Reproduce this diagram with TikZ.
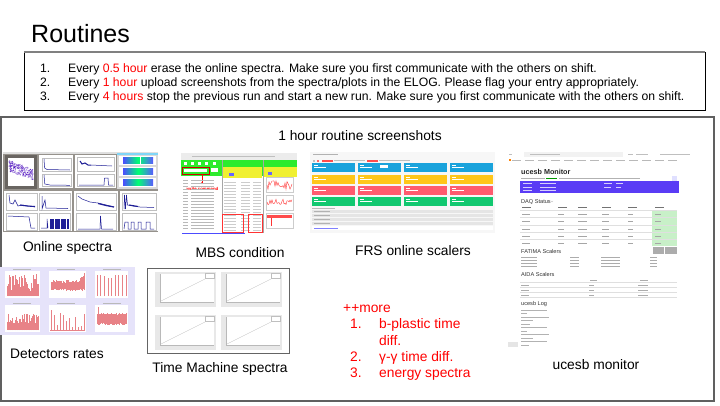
\documentclass[tikz,border=0pt]{standalone}
\usepackage{fontspec}
\setmainfont{Liberation Sans}
\usetikzlibrary{arrows.meta}
\definecolor{osbg}{RGB}{150,146,140}
\definecolor{osdark}{RGB}{105,101,97}
\definecolor{plotblue}{RGB}{30,30,150}
\definecolor{mbsgreen}{RGB}{45,235,45}
\definecolor{mbsyellow}{RGB}{240,240,50}
\definecolor{frsblue}{RGB}{26,163,220}
\definecolor{frsyellow}{RGB}{255,198,26}
\definecolor{frsred}{RGB}{255,91,110}
\definecolor{frsgreen}{RGB}{18,200,112}
\definecolor{ucpurple}{RGB}{90,60,245}
\definecolor{ucgreen}{RGB}{200,240,200}
\definecolor{lav}{RGB}{230,227,250}
\definecolor{spike}{RGB}{232,130,135}
\definecolor{framegray}{RGB}{100,100,100}
\begin{document}
\begin{tikzpicture}[x=1pt,y=-1pt,
  lbl/.style={font=\fontsize{13.8}{16}\selectfont, inner sep=0, anchor=base},
  listtxt/.style={font=\fontsize{12.2}{14}\selectfont, inner sep=0, anchor=base west},
  redtxt/.style={font=\fontsize{13.8}{16}\selectfont, inner sep=0, anchor=base west, text=red},
  uchead/.style={font=\fontsize{5.6}{6}\selectfont, inner sep=0, anchor=base west, text=black!80},
  txtline/.style={gray!55, line width=0.5},
  subplot/.style={draw=gray!50, line width=0.3, fill=white},
  curve/.style={plotblue, line width=0.5},
  spk/.style={spike, line width=0.4},
]
\useasboundingbox (0,0) rectangle (720,405);
\fill[white] (0,0) rectangle (720,405);
\pgfmathsetseed{42}

% ---------- title and routine list ----------
\node[font=\fontsize{25}{29}\selectfont, inner sep=0, anchor=base west] (title) at (31,42) {Routines};
\draw[black, line width=0.7] (24,52) rectangle (705,110);
\draw[gray, line width=1.6] (24,52) -- (705,52);
\node[listtxt] (n1) at (40,72) {1.};
\node[listtxt] (t1) at (68,72) {Every \textcolor{red}{0.5 hour} erase the online spectra. Make sure you first communicate with the others on shift.};
\node[listtxt] (n2) at (40,86) {2.};
\node[listtxt] (t2) at (68,86) {Every \textcolor{red}{1 hour} upload screenshots from the spectra/plots in the ELOG. Please flag your entry appropriately.};
\node[listtxt] (n3) at (40,100) {3.};
\node[listtxt] (t3) at (68,100) {Every \textcolor{red}{4 hours} stop the previous run and start a new run. Make sure you first communicate with the others on shift.};

% ---------- big frame ----------
\draw[gray!75!black, line width=1.1] (1,117) rectangle (714,401);
\node[lbl] (hdr) at (360,140) {1 hour routine screenshots};

% ---------- Online spectra screenshot ----------
\fill[osbg] (3,152) rectangle (158,232);
\fill[gray!25] (3,152) rectangle (158,154);
\fill[osdark] (5,155) rectangle (37,189);
\fill[white] (8,158) rectangle (34,186);
\foreach \i in {1,...,220}{
  \pgfmathsetmacro\rx{21+(rnd-0.5)*24}
  \pgfmathsetmacro\ry{170+(\rx-21)*0.35+(rnd-0.5)*11}
  \fill[blue!65!purple, opacity=0.55] (\rx,\ry) circle (0.6);
}
\fill[white] (39,155) rectangle (73,188);
\draw[subplot] (42,158) rectangle (71,171);
\draw[subplot] (42,174) rectangle (71,186);
\draw[curve] (44,159) -- (44.6,168) -- (47,169.5) -- (70,170);
\draw[curve] (44,175) -- (44.8,184) -- (50,185) -- (70,185.3);
\fill[white] (75,155) rectangle (116,188);
\draw[subplot] (77,157) rectangle (114,171);
\draw[subplot] (77,174) rectangle (114,186);
\draw[curve, line width=1] (80,161) -- (82,164) -- (85,163) -- (88,165) -- (91,165);
\draw[curve] (91,165) -- (112,166);
\draw[curve] (79,185) -- (104,185) -- (104.5,178) -- (108,178) -- (108.5,185) -- (113,185);
\fill[gray!30] (117,153) rectangle (158,189);
\fill[cyan!50] (117,153) rectangle (158,155);
\foreach \yb in {156,167,178}{
  \fill[white] (119,\yb) rectangle (156,\yb+9);
  \shade[left color=blue!70, right color=blue!65, middle color=green!55!cyan] (123,\yb+1.5) rectangle (153,\yb+7.5);
}
\draw[white, line width=0.6] (140,156) -- (140,165);
% bottom row
\fill[white] (4,191) rectangle (72,231);
\draw[subplot] (6,193) rectangle (37,210);
\draw[subplot] (39,193) rectangle (70,210);
\draw[subplot] (6,213) rectangle (37,230);
\draw[subplot] (39,213) rectangle (70,230);
\draw[curve] (9,195) -- (10,203) -- (13,204) -- (15,200) -- (18,206) -- (22,205) -- (35,207);
\draw[curve, line width=1.1] (20,205) -- (27,206) -- (35,206.5);
\draw[curve] (42,196) -- (42,209) -- (45,200) -- (46,208) -- (68,208.5);
\draw[curve] (8,216) -- (29,217) -- (31,228) -- (35,228);
\draw[curve] (41,228) -- (47,228) -- (47,219) -- (48,228);
\foreach \xx in {50,51.2,...,68}{\draw[curve, line width=0.3] (\xx,228.5) -- (\xx,219);}
\fill[white] (74,191) rectangle (118,231);
\draw[subplot] (76,193) rectangle (116,210);
\draw[subplot] (76,213) rectangle (116,230);
\draw[curve] (78,196) -- (82,199) -- (90,202) -- (98,203) -- (106,205) -- (114,207);
\draw[curve, line width=1.2] (98,203.5) -- (106,205.5) -- (114,207);
\draw[curve] (78,229) -- (100,229) -- (100.5,216) -- (101.5,229) -- (113,229);
\fill[white] (120,191) rectangle (158,231);
\draw[subplot] (122,193) rectangle (156,210);
\draw[subplot] (122,213) rectangle (156,230);
\draw[curve] (124,209) -- (124.5,195) -- (125.5,209) -- (126.5,195) -- (127.5,205) -- (133,206) -- (140,207) -- (154,207.5);
\draw[curve, line width=1.1] (129,205) -- (138,206.5);
\draw[curve] (124,229) -- (125,222) -- (128,222) -- (128,229) -- (131,229) -- (131,222) -- (134,222) -- (134,229) -- (138,229) -- (138,222) -- (141,222) -- (141,229) -- (146,229) -- (146,222) -- (150,222) -- (150,229) -- (154,229);

% ---------- MBS condition screenshot ----------
\fill[white] (181,153) rectangle (297,234);
\fill[gray!15] (181,153) rectangle (297,159.5);
\draw[gray!50, line width=0.5] (192,156) -- (275,156);
\fill[mbsgreen] (181,160) rectangle (297,176);
\fill[mbsyellow] (222,167) rectangle (262,178);
\fill[mbsyellow] (263,167) rectangle (297,177);
\draw[gray!70, line width=0.3] (222,160) -- (222,233) (263,160) -- (263,233);
\foreach \xx in {184,191,198,205,213}{\fill[white] (\xx,162) rectangle ++(3,3);}
\fill[white] (184,169) rectangle (207,172);
\draw[red!80!black, line width=0.6] (182,167.5) rectangle (209,174);
\fill[white] (211,168) rectangle (218,172);
\fill[blue!60] (229,173) rectangle (234,176);
\fill[blue!60] (268,172) rectangle (272,175);
\draw[red, -{Latex[length=2.2pt]}, line width=0.6] (202,174) -- (202,184.5);
\node[font=\fontsize{4.3}{5}\selectfont\bfseries, text=red, inner sep=0] (wc) at (202.5,188.5) {write command};
\foreach \yy in {180,183,...,230}{\draw[txtline, line width=0.4] (183,\yy) -- (188,\yy) (191,\yy) -- (214,\yy);}
\foreach \yy in {182,185,...,230}{\draw[gray!40, line width=0.4] (224,\yy) -- (236,\yy) (241,\yy) -- (250,\yy) (253,\yy) -- (261,\yy);}
\draw[red!80, line width=0.6] (222,214) rectangle (243,232);
\draw[red!80, line width=0.6] (248,214) rectangle (262,232);
\foreach \yb in {177,195,213}{\draw[gray!40, line width=0.3, fill=white] (266,\yb) rectangle ++(27,15);}
\draw[red!80, line width=0.4] (267,185) \foreach \xx in {268,...,292}{ -- (\xx,{185+(rnd-0.5)*9}) };
\draw[red!80, line width=0.4] (267,202) \foreach \xx in {268,...,292}{ -- (\xx,{202+(rnd-0.5)*6}) };
\fill[red!70] (267,215) rectangle (292,218);
\draw[red!80, line width=0.5] (271,218) -- (271,226);
\draw[blue!70, line width=0.7] (182,233.5) -- (245,233.5);

% ---------- FRS online scalers screenshot ----------
\fill[gray!6] (310,152) rectangle (495,233);
\draw[gray!60, line width=0.5] (313,154.5) -- (338,154.5);
\fill[gray!50] (313,159.5) rectangle (315,161.5);
\fill[red!60] (317,159.5) rectangle (319,161.5);
\fill[red!70] (322,159.5) rectangle (333,161.5);
\draw[gray!50, line width=0.4] (334,160.5) -- (365,160.5);
\fill[red!70] (367,159.5) rectangle (378,161.5);
\draw[gray!50, line width=0.4] (379,160.5) -- (410,160.5);
\foreach \cc/\yb in {frsblue/163, frsyellow/175, frsred/186, frsgreen/197}{
  \foreach \xb in {312,358,404,450}{
    \fill[\cc] (\xb,\yb) rectangle ++(43,9);
    \draw[white, line width=0.4] (\xb+2,\yb+2) -- ++(4,0) (\xb+2,\yb+4.5) -- ++(12,0);
  }
}
\fill[white] (380,165) rectangle (388,168);
\draw[gray!55, line width=0.4] (312,208) -- (335,208);
\foreach \yy in {210,214,218,222}{
  \fill[gray!20] (312,\yy) rectangle (493,\yy+3);
  \draw[gray!60, line width=0.4] (314,\yy+1.5) -- (330,\yy+1.5);
}
\fill[white] (312,226) rectangle (493,230);
\draw[blue!50, line width=0.4] (314,228) -- (338,228);

% ---------- ucesb monitor screenshot ----------
\fill[white] (508,150) rectangle (693,348);
\fill[gray!10] (524,151.5) rectangle (623,157);
\draw[gray!50, line width=0.5] (530,154.3) -- (560,154.3) (628,154.3) -- (633,154.3) (636,154.3) -- (648,154.3) (660,154.3) -- (690,154.3) (509,154.3) -- (512,154.3);
\fill[orange] (509,159) rectangle (511,161);
\foreach \xx in {512,525,...,680}{\draw[gray!55, line width=0.7] (\xx,160) -- ++(9,0);}
\node[font=\fontsize{7.2}{8}\selectfont\bfseries, inner sep=0, anchor=base west, text=black!85] (uct) at (521,174) {ucesb Monitor};
\draw[gray!60, line width=0.5] (521,178) -- (545,178) (559,178) -- (640,178);
\draw[green!60!black, line width=0.5] (546,178) -- (557,178);
\fill[blue!12] (672,176) rectangle (677,181);
\fill[ucpurple] (520,181) rectangle (679,193);
\foreach \yy in {183.5,187,190.5}{\draw[white!75!ucpurple, line width=0.5] (523,\yy) -- (532,\yy) (540,\yy) -- (556,\yy);}
\draw[white!75!ucpurple, line width=0.5] (604,183.5) -- (612,183.5) (616,183.5) -- (623,183.5) (604,187) -- (611,187) (616,187) -- (621,187);
\node[uchead] (daq) at (521,203) {DAQ Status};
\draw[gray!70, line width=0.3] (551,201) -- (552,202) -- (553,201);
\fill[ucgreen] (652,211) rectangle (677,246);
\foreach \xx in {522,558,578,602,628,655}{\draw[black!55, line width=0.5] (\xx,207.5) -- ++(9,0);}
\foreach \yy in {214,221,229,236,243}{
  \foreach \xx/\ll in {522/8,558/6,578/9,602/7,628/5,655/6}{\draw[gray!70, line width=0.5] (\xx,\yy) -- ++(\ll,0);}
}
\foreach \yy in {210.5,217.5,225,232.5,239.5}{\draw[gray!25, line width=0.3] (520,\yy) -- (677,\yy);}
\node[uchead] (fat) at (521,253) {FATIMA Scalers};
\fill[gray!65] (653,247) rectangle (664,253.5);
\fill[gray!65] (665,247) rectangle (677,253.5);
\foreach \yy in {257,260,263,266}{\draw[gray!65, line width=0.45] (521,\yy) -- (537,\yy) (570,\yy) -- (579,\yy) (601,\yy) -- (620,\yy) (650,\yy) -- (657,\yy);}
\node[uchead] (aida) at (521,276) {AIDA Scalers};
\draw[gray!65, line width=0.45] (590,280.5) -- (597,280.5) (640,280.5) -- (648,280.5);
\foreach \yy in {282.5,287.5,292.5,297.5}{\draw[gray!25, line width=0.3] (520,\yy) -- (677,\yy);}
\foreach \yy in {285,290,295}{\draw[gray!65, line width=0.45] (521,\yy) -- (529,\yy) (589,\yy) -- (594,\yy) (638,\yy) -- (648,\yy);}
\node[uchead] (uclog) at (521,305) {ucesb Log};
\foreach \yy/\ll in {310/26,313.5/6,317/28,320.5/12,324/9,327.5/26,331/6,334.5/28,338/12,341.5/26,345/8}{\draw[gray!60, line width=0.45] (521,\yy) -- ++(\ll,0);}
\fill[gray!20] (508,342) rectangle (518,347);

% ---------- Detectors rates screenshot ----------
\fill[lav] (0,267) rectangle (135,335);
\foreach \px/\pw in {5/35,49/37,95/33}{
  \foreach \py in {271,305}{
    \fill[white] (\px,\py) rectangle ++(\pw,27);
    \draw[gray!55, line width=0.4] (\px+8,\py-2) -- ++(18,0);
  }
}
\foreach \xx in {7,7.7,...,39}{\draw[spk] (\xx,296) -- ++(0,{-(rnd*17+5)});}
\foreach \xx in {51,51.7,...,84}{\draw[spk] (\xx,{289+rnd*2}) -- (\xx,{283-rnd*3-(\xx>78)*(\xx-78)*1.2});}
\foreach \xx in {97,100.5,104,108,111,115,118,122,126}{\draw[spk] (\xx,296) -- (\xx,{274+rnd*4});}
\foreach \xx in {7,7.7,...,39}{\draw[spk] (\xx,330) -- ++(0,{-(rnd*12+4)});}
\foreach \xx in {51,54,57,60,63,66,69,72,75,78,81,84}{\draw[spk] (\xx,330) -- ++(0,{-(rnd*17+3)});}
\draw[spk] (50,330) -- (85,330);
\foreach \xx in {97,97.7,...,127}{\draw[spk] (\xx,{323+rnd*2}) -- (\xx,{315-rnd*2});}
\draw[spk] (98,323) -- (98,307);

% ---------- Time Machine spectra screenshot ----------
\draw[framegray, line width=0.9, fill=white] (147,268) rectangle (289,353);
\foreach \px/\py in {155/272,221/272,155/315,221/315}{
  \fill[gray!18] (\px,\py) rectangle ++(61,35);
  \fill[white] (\px+5,\py+2) rectangle (\px+59,\py+30);
  \draw[gray!45, line width=0.3] (\px+6,\py+29) -- (\px+50,\py+7);
  \draw[gray!50, line width=0.3, fill=white] (\px+50,\py+1) rectangle (\px+59,\py+6);
  \draw[gray!55, line width=0.3] (\px+5,\py+2) -- (\px+5,\py+30) -- (\px+59,\py+30);
}

% ---------- labels ----------
\node[lbl] (lonline) at (67.5,251) {Online spectra};
\node[lbl] (lmbs) at (240,257) {MBS condition};
\node[lbl] (lfrs) at (413,255) {FRS online scalers};
\node[lbl] (lucesb) at (596,369) {ucesb monitor};
\node[lbl] (ldet) at (57,358) {Detectors rates};
\node[lbl] (ltime) at (220,372) {Time Machine spectra};

\node[redtxt] (more) at (343,312) {++more};
\node[redtxt] (m1) at (350,328) {1.};
\node[redtxt] (m1t) at (379,328) {b-plastic time};
\node[redtxt] (m1u) at (379,345) {diff.};
\node[redtxt] (m2) at (350,361) {2.};
\node[redtxt] (m2t) at (379,361) {γ-γ time diff.};
\node[redtxt] (m3) at (350,377) {3.};
\node[redtxt] (m3t) at (379,377) {energy spectra};
\end{tikzpicture}
\end{document}
